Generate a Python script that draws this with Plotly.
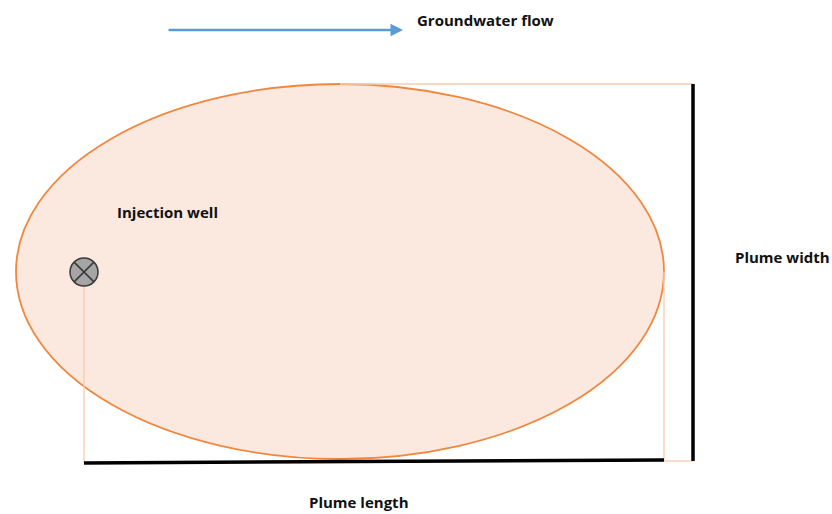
import plotly.graph_objects as go

# Diagram geometry (pixel-like coordinates, y grows downward)
plume_x = [16, 664]          # ellipse left/right
plume_y = [84, 459]          # ellipse top/bottom
well_center = [84, 272]
well_radius = 14
length_line_x = [84, 664]
length_line_y = [463, 460]
width_line_x = [693, 693]
width_line_y = [84, 461]
flow_arrow_x = [167, 403]
flow_arrow_y = [30, 30]
labels = ["Groundwater flow", "Injection well", "Plume width", "Plume length"]
label_x = [415, 115, 733, 307]
label_y = [20, 212, 257, 502]

W, H = 832, 514
fig = go.Figure()

shapes = []
# plume ellipse
shapes.append(dict(type="circle", xref="x", yref="y",
                   x0=plume_x[0], x1=plume_x[1], y0=plume_y[0], y1=plume_y[1],
                   fillcolor="#FBE9E0", line=dict(color="#F0873F", width=1.8), layer="below"))
thin = dict(color="#F8CBAD", width=1.3)
cx = (plume_x[0] + plume_x[1]) / 2
# top helper line
shapes.append(dict(type="line", x0=cx, x1=width_line_x[0], y0=width_line_y[0], y1=width_line_y[0], line=thin))
# well vertical helper
shapes.append(dict(type="line", x0=well_center[0], x1=well_center[0], y0=well_center[1] + well_radius,
                   y1=length_line_y[0], line=thin))
# right vertical helper and bottom small horizontal
shapes.append(dict(type="line", x0=plume_x[1], x1=plume_x[1], y0=(plume_y[0] + plume_y[1]) / 2,
                   y1=width_line_y[1], line=thin))
shapes.append(dict(type="line", x0=plume_x[1], x1=width_line_x[0], y0=width_line_y[1], y1=width_line_y[1], line=thin))
# plume length line
shapes.append(dict(type="line", x0=length_line_x[0], x1=length_line_x[1], y0=length_line_y[0], y1=length_line_y[1],
                   line=dict(color="#000000", width=3.5)))
# plume width line
shapes.append(dict(type="line", x0=width_line_x[0], x1=width_line_x[1], y0=width_line_y[0], y1=width_line_y[1],
                   line=dict(color="#000000", width=3.5)))
# well symbol
wx, wy, r = well_center[0], well_center[1], well_radius
shapes.append(dict(type="circle", x0=wx - r, x1=wx + r, y0=wy - r, y1=wy + r,
                   fillcolor="#A5A5A5", line=dict(color="#3A3A3A", width=1.5)))
d = r * 0.707
shapes.append(dict(type="line", x0=wx - d, x1=wx + d, y0=wy - d, y1=wy + d, line=dict(color="#3A3A3A", width=1.5)))
shapes.append(dict(type="line", x0=wx - d, x1=wx + d, y0=wy + d, y1=wy - d, line=dict(color="#3A3A3A", width=1.5)))

annotations = []
annotations.append(dict(x=flow_arrow_x[1], y=flow_arrow_y[1], ax=flow_arrow_x[0], ay=flow_arrow_y[0],
                        xref="x", yref="y", axref="x", ayref="y", text="", showarrow=True,
                        arrowhead=2, arrowsize=1, arrowwidth=2.5, arrowcolor="#5B9BD5"))
for t, x, y in zip(labels, label_x, label_y):
    annotations.append(dict(x=x, y=y, xref="x", yref="y", text="<b>" + t + "</b>", showarrow=False,
                            xanchor="left", yanchor="middle",
                            font=dict(family="Open Sans", size=15, color="#111111")))

fig.update_layout(width=W, height=H, margin=dict(l=0, r=0, t=0, b=0),
                  paper_bgcolor="white", plot_bgcolor="white",
                  xaxis=dict(range=[0, W], visible=False, fixedrange=True),
                  yaxis=dict(range=[H, 0], visible=False, fixedrange=True),
                  shapes=shapes, annotations=annotations, showlegend=False)
fig.write_html("out.html", config={"displayModeBar": False},
               post_script="document.body.style.margin='0';document.body.style.overflow='hidden';")
